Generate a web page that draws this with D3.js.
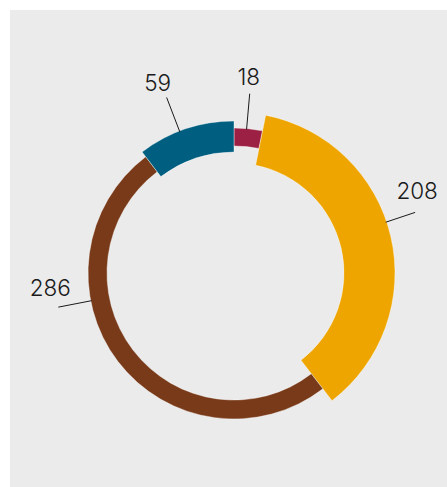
<!DOCTYPE html>
<html><head><meta charset="utf-8">
<script src="https://cdn.jsdelivr.net/npm/d3@7"></script>
<style>html,body{margin:0;padding:0;background:#fff;}svg{display:block;}</style>
</head><body>
<svg id="c" width="447" height="487"></svg>
<script>
const categories = ["A", "B", "C", "D"];
const values = [18, 208, 286, 59];
const colors = ["#9c2043", "#eea500", "#783a18", "#005f80"];
// ring radii per slice (style)
const innerR = [127, 110, 127, 121];
const outerR = [145, 161, 146, 152];
// label leader geometry (style)
const labelAngle = [5, 71.5, 259, 339];
const labelLen = [35, 30, 33, 36];
const labelDx = [-1, 2, -8, -9];
const labelDy = [-9, -13, -11, -7];

const svg = d3.select("#c");
svg.append("rect").attr("x", 10).attr("y", 10).attr("width", 437).attr("height", 477).attr("fill", "#ebebeb");

const cx = 234, cy = 273;
const g = svg.append("g").attr("transform", `translate(${cx},${cy})`);
const data = categories.map((c, i) => ({ c, v: values[i], i }));
const pie = d3.pie().value(d => d.v).sort(null);
const arcs = pie(data);

g.selectAll("path.slice").data(arcs).join("path")
  .attr("class", "slice")
  .attr("d", d => d3.arc().innerRadius(innerR[d.data.i]).outerRadius(outerR[d.data.i])(d))
  .attr("fill", d => colors[d.data.i])
  .attr("stroke", "#ffffff").attr("stroke-width", 0.4);

arcs.forEach(d => {
  const i = d.data.i;
  const a = labelAngle[i] * Math.PI / 180;
  const r0 = outerR[i] - 1, r1 = outerR[i] + labelLen[i];
  const x0 = r0 * Math.sin(a), y0 = -r0 * Math.cos(a);
  const x1 = r1 * Math.sin(a), y1 = -r1 * Math.cos(a);
  g.append("line").attr("x1", x0).attr("y1", y0).attr("x2", x1).attr("y2", y1)
    .attr("stroke", "#1a1a1a").attr("stroke-width", 1);
  g.append("text").attr("x", x1 + labelDx[i]).attr("y", y1 + labelDy[i])
    .attr("text-anchor", "middle")
    .attr("font-family", "Inter, Lato, sans-serif").attr("font-weight", 300)
    .attr("font-size", 22.5).attr("fill", "#1a1a1a")
    .text(d.data.v);
});
</script>
</body></html>
